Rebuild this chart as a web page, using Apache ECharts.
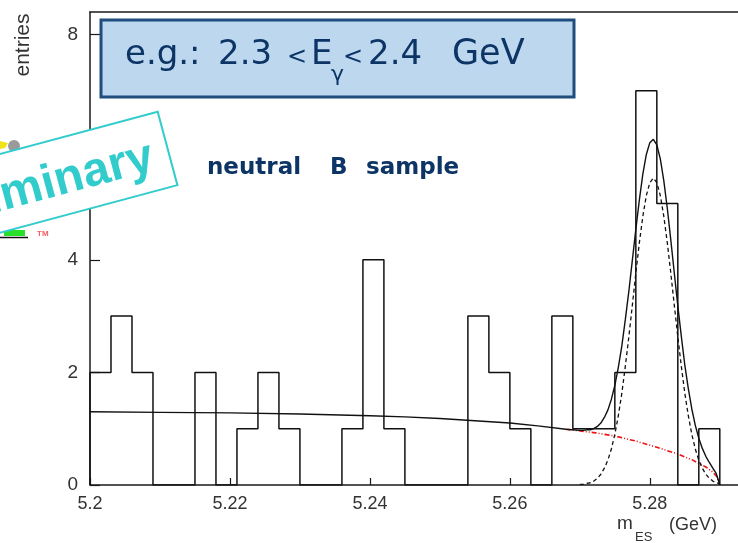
<!DOCTYPE html>
<html>
<head>
<meta charset="utf-8">
<script src="https://cdn.jsdelivr.net/npm/echarts@6/dist/echarts.min.js"></script>
<style>
html, body { margin: 0; padding: 0; background: #fff; }
#main { width: 738px; height: 543px; }
</style>
</head>
<body>
<div id="main"></div>
<script>
var myChart = echarts.init(document.getElementById('main'));

// histogram, 30 bins of 3 MeV
var binEdges = [5.200, 5.203, 5.206, 5.209, 5.212, 5.215, 5.218, 5.221, 5.224, 5.227,
  5.230, 5.233, 5.236, 5.239, 5.242, 5.245, 5.248, 5.251, 5.254, 5.257,
  5.260, 5.263, 5.266, 5.269, 5.272, 5.275, 5.278, 5.281, 5.284, 5.287, 5.290];
var binCounts = [2, 3, 2, 0, 0, 2, 0, 1, 2, 1, 0, 0, 1, 4, 1, 0, 0, 0, 3, 2, 1, 0, 3, 1, 1, 2, 7, 5, 0, 1];

// background (argus) curve
var bgX = [5.200, 5.210, 5.220, 5.230, 5.240, 5.245, 5.250, 5.255, 5.260, 5.264, 5.268,
  5.272, 5.275, 5.278, 5.281, 5.284, 5.286, 5.288, 5.289, 5.2895, 5.2898, 5.290];
var bgY = [1.30, 1.29, 1.28, 1.26, 1.23, 1.21, 1.18, 1.14, 1.10, 1.05, 0.99,
  0.93, 0.87, 0.78, 0.67, 0.55, 0.45, 0.32, 0.23, 0.16, 0.08, 0];

// peak region: signal (dashed) and total fit (solid)
var peakX = [5.2700, 5.2705, 5.2710, 5.2715, 5.2720, 5.2725, 5.2730, 5.2735, 5.2740, 5.2745,
  5.2750, 5.2755, 5.2760, 5.2765, 5.2770, 5.2775, 5.2780, 5.2785, 5.2790, 5.2795,
  5.2800, 5.2805, 5.2810, 5.2815, 5.2820, 5.2825, 5.2830, 5.2835, 5.2840, 5.2845,
  5.2850, 5.2855, 5.2860, 5.2865, 5.2870, 5.2875, 5.2880, 5.2885, 5.2890, 5.2895, 5.2900];
var sigY = [0.01, 0.01, 0.03, 0.04, 0.07, 0.12, 0.19, 0.30, 0.44, 0.64,
  0.90, 1.23, 1.63, 2.11, 2.63, 3.19, 3.76, 4.30, 4.77, 5.14,
  5.37, 5.45, 5.37, 5.14, 4.77, 4.30, 3.76, 3.19, 2.63, 2.11,
  1.63, 1.23, 0.90, 0.64, 0.44, 0.30, 0.19, 0.12, 0.07, 0.04, 0.02];
var totY = [0.97, 0.97, 0.98, 0.98, 1.00, 1.04, 1.10, 1.20, 1.33, 1.52,
  1.77, 2.09, 2.47, 2.94, 3.44, 3.99, 4.54, 5.06, 5.52, 5.87,
  6.08, 6.14, 6.04, 5.79, 5.40, 4.91, 4.35, 3.76, 3.18, 2.64,
  2.13, 1.71, 1.35, 1.06, 0.83, 0.65, 0.51, 0.40, 0.30, 0.20, 0];

var xTicks = { min: 5.2, interval: 0.02 };
var yTicks = { min: 0, interval: 2 };

// build step outline of the histogram
var histData = [[binEdges[0], 0]];
for (var i = 0; i < binCounts.length; i++) {
  histData.push([binEdges[i], binCounts[i]]);
}
histData.push([binEdges[binEdges.length - 1], 0]);

var totData = [];
for (var i = 0; i < bgX.length; i++) {
  if (bgX[i] < peakX[0]) totData.push([bgX[i], bgY[i]]);
}
for (var i = 0; i < peakX.length; i++) totData.push([peakX[i], totY[i]]);

var sigData = peakX.map(function (x, i) { return [x, sigY[i]]; });
var bgData = [];
for (var i = 0; i < bgX.length; i++) {
  if (bgX[i] >= 5.268) bgData.push([bgX[i], bgY[i]]);
}

var axisCol = '#1a1a1a';
var navy = '#0c3566';
var cyan = '#33cccc';
var comic = '"DejaVu Sans", sans-serif';

// tokens of the boxed label, placed one by one: text, x, font size
var boxTokens = [
  ['e.g.:', 125, 34], ['2.3', 218, 34], ['<', 287, 24], ['E', 311, 34],
  ['<', 343, 24], ['2.4', 368, 34], ['GeV', 452, 35]
];
var graphics = [
  // logo bits peeking out behind the preliminary stamp
  { type: 'circle', shape: { cx: 14, cy: 146, r: 6 }, style: { fill: '#9a9a9a' }, z: 100 },
  { type: 'polygon', shape: { points: [[0, 141], [8, 143], [5, 148], [0, 149]] }, style: { fill: '#f2e21a' }, z: 100 },
  { type: 'rect', shape: { x: 4, y: 230, width: 21, height: 6 }, style: { fill: '#27e027' }, z: 100 },
  { type: 'line', shape: { x1: 0, y1: 237.5, x2: 28, y2: 237.5 }, style: { stroke: '#111', lineWidth: 1.5 }, z: 100 },
  { type: 'text', style: { text: 'TM', x: 37, y: 234, fill: '#f26060', font: 'bold 8px "Liberation Sans"', verticalAlign: 'middle' }, z: 100 },
  {
    type: 'group', x: 27.5, y: 186, rotation: 0.262, z: 101,
    children: [
      { type: 'rect', shape: { x: -145, y: -38, width: 290, height: 76 }, style: { fill: '#fff', stroke: cyan, lineWidth: 2 }, z: 101 },
      { type: 'text', style: { text: 'Preliminary', x: -2, y: 4, align: 'center', verticalAlign: 'middle', fill: cyan, font: 'bold 48px "Liberation Sans"' }, z: 102 }
    ]
  },
  { type: 'rect', shape: { x: 101, y: 20, width: 473, height: 77 }, style: { fill: '#bdd7ee', stroke: '#1f4d7e', lineWidth: 3 }, z: 100 },
  { type: 'text', style: { text: 'γ', x: 331, y: 75, fill: navy, font: '22px ' + comic, verticalAlign: 'middle' }, z: 101 },
  { type: 'text', style: { text: 'neutral', x: 207, y: 168, fill: navy, font: 'bold 23px ' + comic, verticalAlign: 'middle' }, z: 100 },
  { type: 'text', style: { text: 'B', x: 330, y: 168, fill: navy, font: 'bold 23px ' + comic, verticalAlign: 'middle' }, z: 100 },
  { type: 'text', style: { text: 'sample', x: 366, y: 168, fill: navy, font: 'bold 23px ' + comic, verticalAlign: 'middle' }, z: 100 },
  { type: 'text', x: 23, y: 45, rotation: Math.PI / 2, style: { text: 'entries', x: 0, y: 0, align: 'center', verticalAlign: 'middle', fill: '#333', font: '21px "Liberation Sans"' }, z: 100 },
  { type: 'text', style: { text: 'm', x: 617, y: 524, fill: '#333', font: '19px "Liberation Sans"', verticalAlign: 'middle' }, z: 100 },
  { type: 'text', style: { text: 'ES', x: 635, y: 537, fill: '#333', font: '13px "Liberation Sans"', verticalAlign: 'middle' }, z: 100 },
  { type: 'text', style: { text: '(GeV)', x: 669, y: 525, fill: '#333', font: '18px "Liberation Sans"', verticalAlign: 'middle' }, z: 100 }
];
boxTokens.forEach(function (t) {
  graphics.push({ type: 'text', style: { text: t[0], x: t[1], y: t[2] < 30 ? 58 : 55, fill: navy, font: t[2] + 'px ' + comic, verticalAlign: 'middle' }, z: 101 });
});

var option = {
  animation: false,
  backgroundColor: '#fff',
  grid: { left: 90, right: 0, top: 12, bottom: 58, outerBoundsMode: 'none' },
  xAxis: [{
    type: 'value',
    min: xTicks.min,
    max: 5.2926,
    interval: xTicks.interval,
    axisLine: { onZero: false, lineStyle: { color: axisCol, width: 1.5 } },
    axisTick: { inside: true, length: 7, lineStyle: { color: axisCol, width: 1.2 } },
    axisLabel: { color: '#333', fontSize: 18, fontFamily: 'Liberation Sans', margin: 10, showMaxLabel: false },
    splitLine: { show: false }
  }, {
    type: 'value',
    position: 'top',
    min: xTicks.min,
    max: 5.2926,
    axisLine: { show: true, onZero: false, lineStyle: { color: axisCol, width: 1.5 } },
    axisTick: { show: false },
    axisLabel: { show: false },
    splitLine: { show: false }
  }],
  yAxis: {
    type: 'value',
    min: yTicks.min,
    max: 8.4,
    interval: yTicks.interval,
    axisLine: { show: true, onZero: false, lineStyle: { color: axisCol, width: 1.5 } },
    axisTick: { show: true, inside: true, length: 10, lineStyle: { color: axisCol, width: 1.2 } },
    axisLabel: { color: '#333', fontSize: 19, fontFamily: 'Liberation Sans', margin: 12, showMaxLabel: false },
    splitLine: { show: false }
  },
  series: [
    {
      name: 'data',
      type: 'line',
      step: 'end',
      symbol: 'none',
      data: histData,
      lineStyle: { color: '#111', width: 1.5 },
      z: 5
    },
    {
      name: 'total',
      type: 'line',
      symbol: 'none',
      data: totData,
      lineStyle: { color: '#111', width: 1.4 },
      z: 4
    },
    {
      name: 'signal',
      type: 'line',
      symbol: 'none',
      data: sigData,
      lineStyle: { color: '#111', width: 1.3, type: [4, 3] },
      z: 3
    },
    {
      name: 'background',
      type: 'line',
      symbol: 'none',
      data: bgData,
      lineStyle: { color: '#ee1111', width: 1.6, type: [5, 2, 1, 2, 1, 2] },
      z: 2
    }
  ],
  graphic: graphics
};

option && myChart.setOption(option);
</script>
</body>
</html>
